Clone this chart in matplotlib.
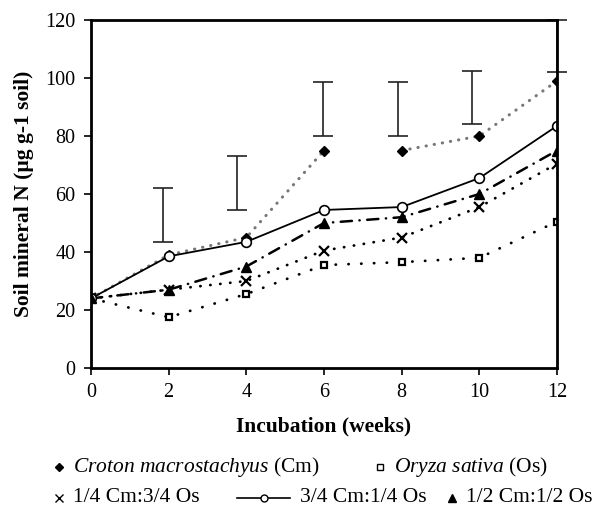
import matplotlib
matplotlib.use('Agg')
import matplotlib.pyplot as plt
from matplotlib.lines import Line2D

plt.rcParams.update({'font.family': 'Liberation Serif', 'font.size': 14.5,
                     'mathtext.fontset': 'custom',
                     'mathtext.rm': 'Liberation Serif',
                     'mathtext.it': 'Liberation Serif:italic'})

# incubation time (weeks) and soil mineral N per treatment
weeks = [0, 2, 4, 6, 8, 10, 12]
cm = [24, 39, 45, 75, 75, 80, 99]                # Croton macrostachyus
os_ = [24, 17.5, 25.5, 35.5, 36.5, 38, 50.5]     # Oryza sativa
cm14 = [24, 27, 30, 40.5, 45, 55.5, 70.5]        # 1/4 Cm : 3/4 Os
cm34 = [24, 38.5, 43.5, 54.5, 55.5, 65.5, 83.5]  # 3/4 Cm : 1/4 Os
cm12 = [24, 27, 35, 50, 52, 60, 75]              # 1/2 Cm : 1/2 Os

# LSD bars (floating)
lsd_x = [1.85, 3.76, 5.97, 7.9, 9.8, 12.0]
lsd_lo = [43.5, 54.5, 80, 80, 84, 102]
lsd_hi = [62, 73, 98.5, 98.5, 102.5, 120]

fig = plt.figure(figsize=(5.92, 5.08), dpi=100)
ax = fig.add_axes([0.1537, 0.2756, 0.7873, 0.685])

dot = (0, (0.1, 2.6))
# Croton: no line between week 6 and week 8
ax.plot(weeks[:4], cm[:4], color='#777777', lw=2.2, ls=dot, dash_capstyle='round')
ax.plot(weeks[4:], cm[4:], color='#777777', lw=2.2, ls=dot, dash_capstyle='round')
ax.plot(weeks, os_, color='black', lw=2, ls=(0, (0.1, 4.5)), dash_capstyle='round')
ax.plot(weeks, cm14, color='black', lw=2, ls=(0, (0.1, 3.5)), dash_capstyle='round')
ax.plot(weeks, cm34, color='black', lw=1.3, ls='-')
ax.plot(weeks, cm12, color='black', lw=1.8, ls=(0, (4.5, 3, 0.1, 3)), dash_capstyle='round')

ax.plot(weeks, cm, linestyle='none', marker='D', ms=5.5, color='black')
ax.plot(weeks, os_, linestyle='none', marker='s', ms=5, mfc='white', mec='black', mew=1.6)
ax.plot(weeks, cm14, linestyle='none', marker='x', ms=7, color='black', mew=1.6)
ax.plot(weeks, cm34, linestyle='none', marker='o', ms=7, mfc='white', mec='black', mew=1.2)
ax.plot(weeks, cm12, linestyle='none', marker='^', ms=7, color='black')

mid = [(a + b) / 2 for a, b in zip(lsd_lo, lsd_hi)]
half = [(b - a) / 2 for a, b in zip(lsd_lo, lsd_hi)]
ax.errorbar(lsd_x, mid, yerr=half, fmt='none', ecolor='#222222', elinewidth=1.2,
            capsize=7.5, capthick=1.2, clip_on=False)

ax.set_xlim(0, 12)
ax.set_ylim(0, 120)
ax.set_xticks(range(0, 13, 2))
ax.set_yticks(range(0, 121, 20))
ax.tick_params(direction='out', length=5, width=1.2, pad=6)
for s in ax.spines.values():
    s.set_linewidth(2)
ax.set_xlabel('Incubation (weeks)', fontweight='bold', fontsize=15.5, labelpad=10)
ax.set_ylabel('Soil mineral N (µg g-1 soil)', fontweight='bold', fontsize=15.5, labelpad=8)

# legend entries laid out in two rows below the axes
W, H = 592, 508


def fx(px):
    return px / W


def fy(py):
    return 1 - py / H


def key(px, py, label, **style):
    fig.add_artist(Line2D([fx(px)], [fy(py)], transform=fig.transFigure, **style))
    fig.text(fx(px + 14), fy(py), label, va='center', ha='left', fontsize=15.5)


key(59, 467, r'$\it{Croton\ macrostachyus}$ (Cm)', marker='D', ms=4.5, color='black', ls='none')
key(380, 467, r'$\it{Oryza\ sativa}$ (Os)', marker='s', ms=5, mfc='white', mec='black', mew=1, ls='none')
key(59, 498, '1/4 Cm:3/4 Os', marker='x', ms=5.5, color='black', mew=1, ls='none')
key(452, 498, '1/2 Cm:1/2 Os', marker='^', ms=6, color='black', ls='none')
fig.add_artist(Line2D([fx(237), fx(290)], [fy(498), fy(498)], transform=fig.transFigure,
                      color='black', lw=1.2))
fig.add_artist(Line2D([fx(263.5)], [fy(498)], transform=fig.transFigure, marker='o', ms=5,
                      mfc='white', mec='black', mew=1, ls='none'))
fig.text(fx(300), fy(498), '3/4 Cm:1/4 Os', va='center', ha='left', fontsize=15.5)

fig.savefig('out.png', dpi=100)
